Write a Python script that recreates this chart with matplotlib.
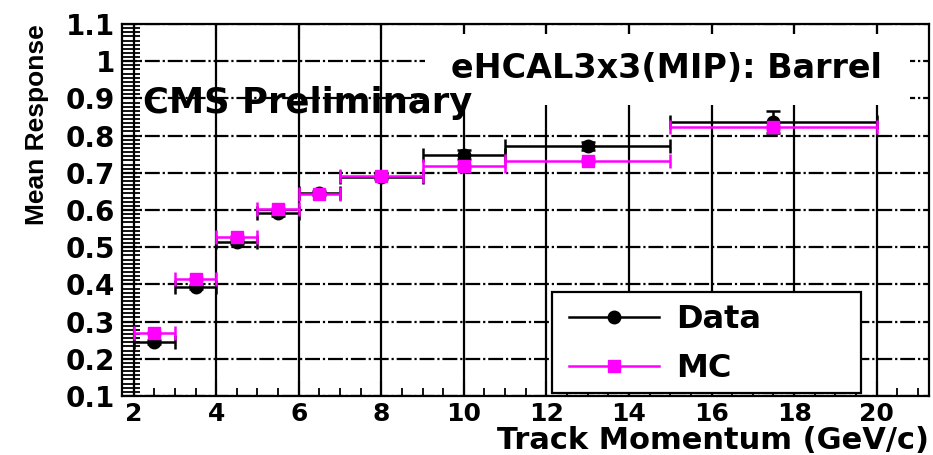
import numpy as np
import matplotlib
matplotlib.use("Agg")
import matplotlib.pyplot as plt
from matplotlib.lines import Line2D
from matplotlib.patches import Rectangle
from matplotlib.ticker import MultipleLocator, FixedLocator, FuncFormatter

# Track-momentum bins (GeV/c)
p_low = [2, 3, 4, 5, 6, 7, 9, 11, 15]
p_high = [3, 4, 5, 6, 7, 9, 11, 15, 20]

# Mean response per bin
data_resp = [0.245, 0.393, 0.515, 0.591, 0.645, 0.690, 0.748, 0.772, 0.837]
data_err = [0.006, 0.006, 0.006, 0.006, 0.006, 0.008, 0.012, 0.010, 0.030]
mc_resp = [0.269, 0.415, 0.527, 0.602, 0.643, 0.691, 0.718, 0.733, 0.822]
mc_err = [0.003, 0.003, 0.003, 0.003, 0.003, 0.003, 0.004, 0.004, 0.005]

x_ticks = [2, 4, 6, 8, 10, 12, 14, 16, 18, 20]
y_ticks = [0.1, 0.2, 0.3, 0.4, 0.5, 0.6, 0.7, 0.8, 0.9, 1.0, 1.1]

MAGENTA = "#ff00ff"
WIDE = "DejaVu Sans"
PLAIN = "Liberation Sans"
plt.rcParams["font.family"] = [WIDE]

p_low = np.array(p_low, float)
p_high = np.array(p_high, float)
p_mid = 0.5 * (p_low + p_high)
p_half = 0.5 * (p_high - p_low)

fig = plt.figure(figsize=(9.33, 4.55), dpi=100)
ax = fig.add_axes([0.1308, 0.1297, 0.865, 0.8176])
ax.set_xlim(1.72, 21.27)
ax.set_ylim(0.1, 1.1)

for s in ax.spines.values():
    s.set_linewidth(1.6)

# grid: solid verticals, dash-dot horizontals
ax.set_xticks(x_ticks)
ax.set_yticks(y_ticks)
ax.xaxis.set_minor_locator(MultipleLocator(0.5))
ax.yaxis.set_minor_locator(FixedLocator(np.linspace(0.1, 1.1, 91)))
ax.yaxis.set_major_formatter(FuncFormatter(lambda v, _: f"{v:g}"))
ax.set_axisbelow(True)
ax.grid(axis="x", which="major", color="black", lw=1.6, ls="-")
ax.grid(axis="y", which="major", color="black", lw=1.6,
        ls=(0, (6.7, 1.3, 1.0, 1.3)))

ax.tick_params(axis="x", which="major", direction="in", length=11, width=1.5,
               top=True, bottom=True, pad=4, labelsize=18)
ax.tick_params(axis="x", which="minor", direction="in", length=6, width=1.3,
               top=False, bottom=True)
ax.tick_params(axis="y", which="both", direction="in", length=13, width=1.3,
               left=True, right=False, pad=5, labelsize=20)
for lab in ax.get_xticklabels() + ax.get_yticklabels():
    lab.set_fontweight("bold")

ax.errorbar(p_mid, data_resp, xerr=p_half, yerr=data_err, fmt="o", color="black",
            ms=9, elinewidth=1.8, capsize=5, capthick=1.8, zorder=3)
ax.errorbar(p_mid, mc_resp, xerr=p_half, yerr=mc_err, fmt="s", color=MAGENTA,
            ms=9, elinewidth=1.8, capsize=5, capthick=1.8, zorder=4)

# labels
ax.text(0.026, 0.761, "CMS Preliminary", transform=ax.transAxes, fontsize=25.5,
        fontweight="bold", ha="left", va="baseline", zorder=6)
ax.add_patch(Rectangle((0.3755, 0.782), 0.601, 0.191, transform=ax.transAxes,
                       facecolor="white", edgecolor="none", zorder=2.5))
ax.text(0.674, 0.855, "eHCAL3x3(MIP): Barrel", transform=ax.transAxes,
        fontsize=24, fontweight="bold", ha="center", va="baseline", zorder=6)

ax.set_xlabel("Track Momentum (GeV/c)", loc="right", fontsize=22,
              fontweight="bold", labelpad=0.5)
ax.set_ylabel("Mean Response", loc="top", fontsize=19, family=PLAIN,
              fontweight="bold", labelpad=12)

# legend box with its entries
ax.add_patch(Rectangle((0.533, 0.008), 0.383, 0.2715, transform=ax.transAxes,
                       facecolor="white", edgecolor="black", lw=1.6, zorder=6))
handles = [Line2D([], [], color="black", marker="o", ms=9, lw=1.8),
           Line2D([], [], color=MAGENTA, marker="s", ms=9, lw=1.8)]
leg = ax.legend(handles, ["Data", "MC"], loc="upper left",
                bbox_to_anchor=(0.554, 0.246), frameon=False,
                borderaxespad=0, borderpad=0,
                handlelength=2.8, handletextpad=0.56, labelspacing=0.54,
                prop={"family": WIDE, "weight": "bold", "size": 23})
leg.set_zorder(7)

fig.savefig("out.png", dpi=100, facecolor="white")
